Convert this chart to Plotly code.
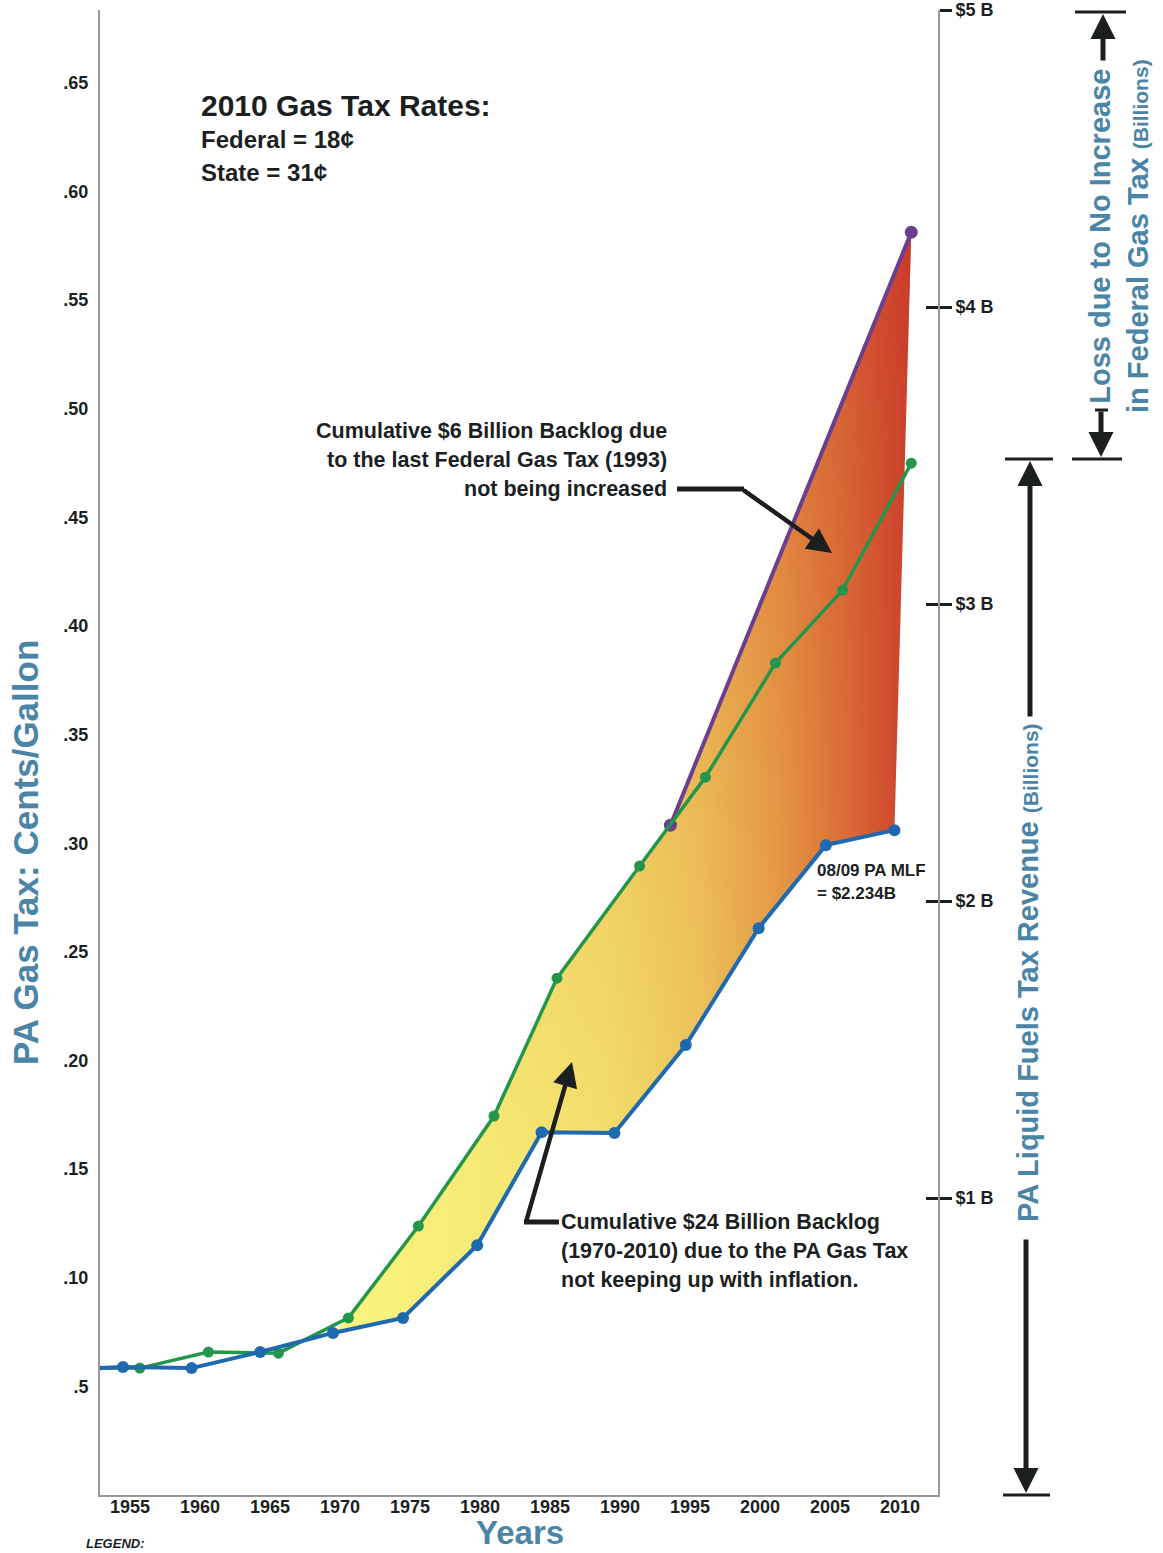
import plotly.graph_objects as go
import numpy as np

# ---------------- data ----------------
years_tick = [1955, 1960, 1965, 1970, 1975, 1980, 1985, 1990, 1995, 2000, 2005, 2010]
tax_ticks = [0.05, 0.10, 0.15, 0.20, 0.25, 0.30, 0.35, 0.40, 0.45, 0.50, 0.55, 0.60, 0.65]
tax_tick_text = [".5", ".10", ".15", ".20", ".25", ".30", ".35", ".40", ".45", ".50", ".55", ".60", ".65"]
rev_ticks = [1, 2, 3, 4, 5]
rev_tick_text = ["$1 B", "$2 B", "$3 B", "$4 B", "$5 B"]

# actual PA gas tax (blue)
blue_x = [1952.5, 1954.5, 1959.4, 1964.3, 1969.5, 1974.5, 1979.8, 1984.4, 1989.6, 1994.7, 1999.9, 2004.7, 2009.6]
blue_y = [0.0584, 0.0589, 0.0584, 0.0658, 0.0746, 0.0815, 0.1150, 0.1670, 0.1666, 0.2071, 0.2609, 0.2991, 0.3060]
# inflation-adjusted gas tax (green)
green_x = [1952.5, 1955.7, 1960.6, 1965.6, 1970.6, 1975.6, 1981.0, 1985.5, 1991.4, 1996.1, 2001.1, 2005.9, 2010.8]
green_y = [0.0584, 0.0584, 0.0658, 0.0653, 0.0815, 0.1238, 0.1744, 0.2379, 0.2895, 0.3304, 0.3829, 0.4165, 0.4749]
# federal-increase projection (purple)
purple_x = [1993.6, 2010.8]
purple_y = [0.3083, 0.5812]

# ---------------- layout geometry ----------------
W, H = 1163, 1553
L, R, T, B = 100, 225, 10, 58
PW, PH = W - L - R, H - T - B


def px(xp):
    return (xp - L) / PW


def py(yp):
    return (H - B - yp) / PH


STEEL = "#4A84A6"
INK = "#1b1f1f"
FONT = "Liberation Sans"

# ---------------- backlog polygon ----------------
gx, gy = np.array(green_x), np.array(green_y)
bx, by = np.array(blue_x), np.array(blue_y)
top_mask = (gx >= 1970) & (gx < purple_x[0])
bot_mask = bx >= 1969
poly_x = list(gx[top_mask]) + purple_x + list(bx[bot_mask][::-1])
poly_y = list(gy[top_mask]) + purple_y + list(by[bot_mask][::-1])
poly_x.append(poly_x[0])
poly_y.append(poly_y[0])

fig = go.Figure()

fig.add_trace(go.Scatter(
    x=poly_x, y=poly_y, mode="lines", fill="toself", line=dict(width=0),
    fillgradient=dict(type="horizontal", start=1971, stop=2011,
                      colorscale=[[0, "#F9F47F"], [0.45, "#F3DF6B"], [0.62, "#EEC65C"],
                                  [0.76, "#E69D48"], [0.88, "#DA6C38"], [1, "#C9372B"]]),
    hoverinfo="skip", showlegend=False))
fig.add_trace(go.Scatter(
    x=poly_x, y=poly_y, mode="lines", fill="toself", line=dict(width=0),
    fillgradient=dict(type="vertical", start=0.15, stop=0.58,
                      colorscale=[[0, "rgba(215,100,45,0)"], [0.35, "rgba(215,100,45,0.12)"],
                                  [1, "rgba(200,60,40,0.40)"]]),
    hoverinfo="skip", showlegend=False))

fig.add_trace(go.Scatter(
    x=purple_x, y=purple_y, mode="lines+markers",
    line=dict(color="#6B3F8F", width=4), marker=dict(size=13, color="#6B3F8F"),
    showlegend=False))
fig.add_trace(go.Scatter(
    x=green_x, y=green_y, mode="lines+markers",
    line=dict(color="#23964B", width=3.5), marker=dict(size=11, color="#23964B"),
    showlegend=False))
fig.add_trace(go.Scatter(
    x=blue_x, y=blue_y, mode="lines+markers",
    line=dict(color="#1F69AE", width=4), marker=dict(size=12, color="#1F69AE"),
    showlegend=False))
# invisible traces to activate the right axes
fig.add_trace(go.Scatter(x=[1980], y=[1], yaxis="y2", mode="markers",
                         marker=dict(opacity=0), hoverinfo="skip", showlegend=False))
fig.add_trace(go.Scatter(x=[1980], y=[1], yaxis="y3", mode="markers",
                         marker=dict(opacity=0), hoverinfo="skip", showlegend=False))

axis_font = dict(family=FONT, size=18, color=INK, weight=700)

fig.update_layout(
    width=W, height=H,
    margin=dict(l=L, r=R, t=T, b=B, autoexpand=False),
    paper_bgcolor="white", plot_bgcolor="white",
    showlegend=False,
    xaxis=dict(range=[1952.86, 2012.71], tickmode="array", tickvals=years_tick,
               ticktext=[str(y) for y in years_tick], showgrid=False, zeroline=False,
               showline=True, linecolor="#9a9a9a", linewidth=2, ticks="",
               tickfont=dict(family=FONT, size=18, color=INK, weight=700),
               ticklabelstandoff=-6),
    yaxis=dict(range=[0, 0.6835], tickmode="array", tickvals=tax_ticks, ticktext=tax_tick_text,
               showgrid=False, zeroline=False, showline=True, linecolor="#9a9a9a",
               linewidth=2, ticks="", tickfont=axis_font, ticklabelstandoff=6),
    yaxis2=dict(range=[0, 5.0], overlaying="y", side="right", tickmode="array",
                tickvals=rev_ticks, ticktext=rev_tick_text, showgrid=False, zeroline=False,
                showline=True, linecolor="#9a9a9a", linewidth=2, ticks="outside",
                ticklen=12, tickwidth=2.5, tickcolor=INK, tickfont=axis_font),
    yaxis3=dict(range=[0, 5.0], overlaying="y", side="right", tickmode="array",
                tickvals=rev_ticks, showticklabels=False, showgrid=False, zeroline=False,
                showline=False, ticks="inside", ticklen=12, tickwidth=2.5, tickcolor=INK),
)

ann = []


def text(x, y, s, size, xanchor="left", color=INK, weight=700, angle=0, style="normal", align="left"):
    ann.append(dict(x=px(x), y=py(y), xref="paper", yref="paper", text=s, showarrow=False,
                    xanchor=xanchor, yanchor="middle", textangle=angle, align=align,
                    font=dict(family=FONT, size=size, color=color, weight=weight, style=style)))


def arrow(hx, hy, tx, ty, width=4.5, size=1.0):
    ann.append(dict(x=px(hx), y=py(hy), xref="paper", yref="paper", ax=tx - hx, ay=ty - hy,
                    axref="pixel", ayref="pixel", showarrow=True, arrowhead=2,
                    arrowsize=size, arrowwidth=width, arrowcolor=INK, text=""))


# rate box
text(199, 105, "2010 Gas Tax Rates:", 30)
text(199, 139, "Federal = 18¢", 24)
text(199, 172, "State = 31¢", 24)

# federal backlog
text(669, 431, "Cumulative $6 Billion Backlog due", 21.5, xanchor="right")
text(669, 460, "to the last Federal Gas Tax (1993)", 21.5, xanchor="right")
text(669, 489, "not being increased", 21.5, xanchor="right")
arrow(832, 553, 742, 489, width=4.5, size=1.1)

# state backlog
text(559, 1222, "Cumulative $24 Billion Backlog", 21.5)
text(559, 1251, "(1970-2010) due to the PA Gas Tax", 21.5)
text(559, 1280, "not keeping up with inflation.", 21.5)
arrow(572, 1062, 526, 1222, width=4.5, size=1.1)

# MLF note
text(815, 871, "08/09 PA MLF", 17)
text(815, 893, "= $2.234B", 17)

# axis titles
text(25, 853, "PA Gas Tax: Cents/Gallon", 35, xanchor="center", color=STEEL, angle=-90)
text(520, 1532, "Years", 33, xanchor="center", color=STEEL)
text(1028, 973, "PA Liquid Fuels Tax Revenue <span style='font-size:21px'>(Billions)</span>",
     29, xanchor="center", color=STEEL, angle=-90)
text(1119, 236, "Loss due to No Increase<br>in Federal Gas Tax <span style='font-size:21px'>(Billions)</span>",
     29, xanchor="center", color=STEEL, angle=-90, align="center")
text(84, 1543, "LEGEND:", 13, style="italic")

# revenue arrows
arrow(1030, 461, 1030, 718, width=5, size=1.0)
arrow(1026, 1493, 1026, 1238, width=5, size=1.0)
# loss arrows
arrow(1103, 14, 1103, 62, width=5, size=1.0)
arrow(1101, 457, 1101, 410, width=5, size=1.0)

fig.update_layout(annotations=ann)

shapes = []


def seg(x0, y0, x1, y1, w=3):
    shapes.append(dict(type="line", xref="paper", yref="paper", x0=px(x0), y0=py(y0),
                       x1=px(x1), y1=py(y1), line=dict(color=INK, width=w)))


seg(677, 489, 744, 489, 5)
seg(524, 1222, 559, 1222, 5)
seg(1005, 459, 1053, 459, 3)
seg(1003, 1495, 1050, 1495, 3)
seg(1075, 12, 1126, 12, 3)
seg(1072, 459, 1122, 459, 3)
seg(1095, 410, 1108, 410, 3)
fig.update_layout(shapes=shapes)

fig.write_html("out.html", config={"displayModeBar": False},
               post_script="document.body.style.margin='0';document.body.style.overflow='hidden';")
